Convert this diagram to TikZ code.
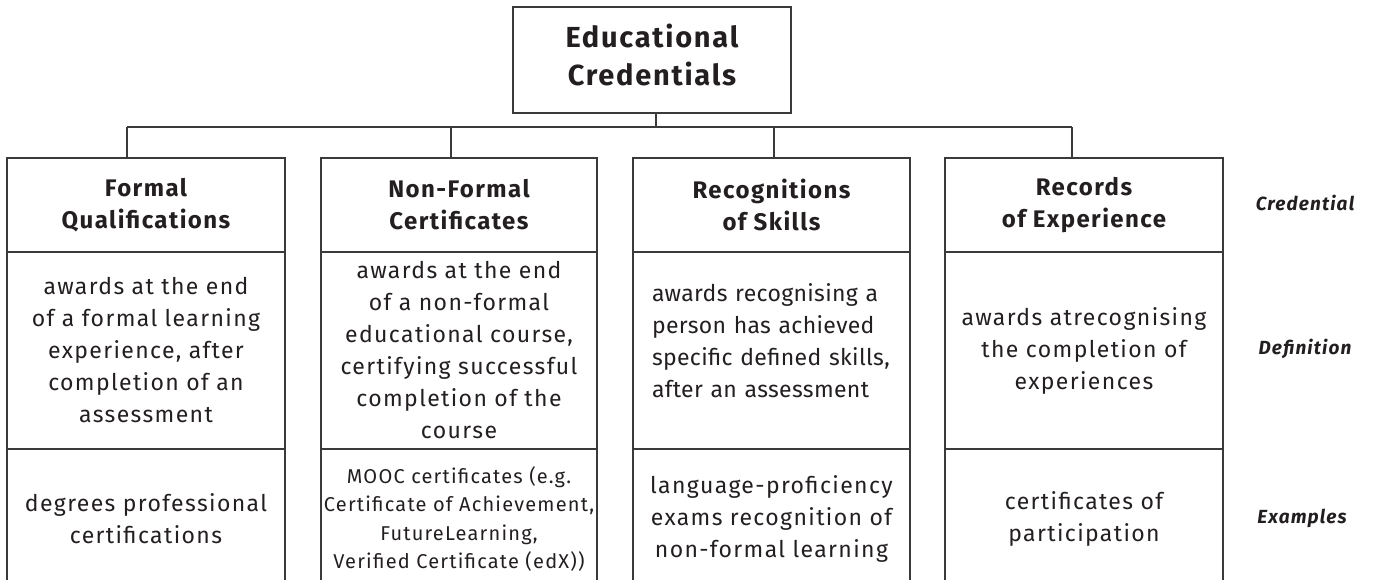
\documentclass[tikz,border=0pt]{standalone}
\usepackage{fontspec}
\setmainfont{Fira Sans}[LetterSpace=6]
\definecolor{linec}{HTML}{3A3A3A}
\definecolor{txt}{HTML}{231F20}
\begin{document}
\begin{tikzpicture}[x=1pt,y=-1pt,
  conn/.style={draw=linec, line width=1.3pt},
  cell/.style={draw=linec, line width=1.3pt, rectangle, outer sep=0pt, inner sep=0pt, text=txt, align=center},
  headcell/.style={cell, minimum height=94pt, font=\bfseries\fontsize{24pt}{32pt}\selectfont},
  defcell/.style={cell, minimum height=197pt, font=\fontsize{23pt}{32pt}\selectfont},
  excell/.style={cell, minimum height=140pt, font=\fontsize{23pt}{32pt}\selectfont},
  bodytext/.style={text=txt, inner sep=0pt, align=center, font=\fontsize{23pt}{32pt}\selectfont},
  sidelabel/.style={text=txt, inner sep=0pt, anchor=base, font=\bfseries\itshape\fontsize{19pt}{22pt}\selectfont}]
\useasboundingbox (0,0) rectangle (1373,579);

% top box
\node[cell, minimum width=278pt, minimum height=106pt] (top) at (652,60) {};
\node[text=txt, inner sep=0pt, align=center, font=\bfseries\fontsize{29pt}{38pt}\selectfont] (toptext) at (652,55) {Educational\\Credentials};

% bus coordinates
\coordinate (b0) at (656,127);
\coordinate (b1) at (127,127);
\coordinate (b2) at (451,127);
\coordinate (b3) at (774,127);
\coordinate (b4) at (1072,127);

% column 1
\node[headcell, minimum width=278pt] (h1) at (146,205) {Formal\\Qualifications};
\node[defcell, minimum width=278pt] (d1) at (146,350.5) {awards at the end\\of a formal learning\\experience, after\\completion of an\\assessment};
\node[excell, minimum width=278pt] (e1) at (146,519) {degrees professional\\certifications};

% column 2
\node[headcell, minimum width=276pt] (h2) at (459,205) {Non-Formal\\Certificates};
\node[defcell, minimum width=276pt] (d2) at (459,350.5) {awards at the end\\of a non-formal\\educational course,\\certifying successful\\completion of the\\course};
\node[excell, minimum width=276pt, font=\fontsize{20pt}{28.5pt}\selectfont] (e2) at (459,519) {MOOC certificates (e.g.\\Certificate of Achievement,\\FutureLearning,\\Verified Certificate (edX))};

% column 3
\node[headcell, minimum width=277pt] (h3) at (771.5,205) {Recognitions\\of Skills};
\node[defcell, minimum width=277pt] (d3) at (771.5,350.5) {};
\node[bodytext, text width=245pt, align=left, font=\fontsize{23pt}{32pt}\selectfont\addfontfeature{LetterSpace=1.5}] (d3t) at (774.5,341) {\makebox[245pt][s]{awards recognising a}\\\makebox[245pt][s]{person has achieved}\\\makebox[245pt][s]{specific defined skills,}\\after an assessment};
\node[excell, minimum width=277pt] (e3) at (771.5,519) {language-proficiency\\exams recognition of\\non-formal learning};

% column 4
\node[headcell, minimum width=278pt] (h4) at (1084,205) {Records\\of Experience};
\node[defcell, minimum width=278pt] (d4) at (1084,350.5) {awards atrecognising\\the completion of\\experiences};
\node[excell, minimum width=278pt] (e4) at (1084,519) {certificates of\\participation};

% connectors
\draw[conn] ([xshift=4pt]top.south) -- (b0);
\draw[conn] (b1) -- (b4);
\draw[conn] (b1) -- (b1 |- h1.north);
\draw[conn] (b2) -- (b2 |- h2.north);
\draw[conn] (b3) -- (b3 |- h3.north);
\draw[conn] (b4) -- (b4 |- h4.north);

% side labels
\node[sidelabel] (lc) at (1305,210) {Credential};
\node[sidelabel] (ld) at (1305,354) {Definition};
\node[sidelabel] (le) at (1302,523) {Examples};
\end{tikzpicture}
\end{document}
